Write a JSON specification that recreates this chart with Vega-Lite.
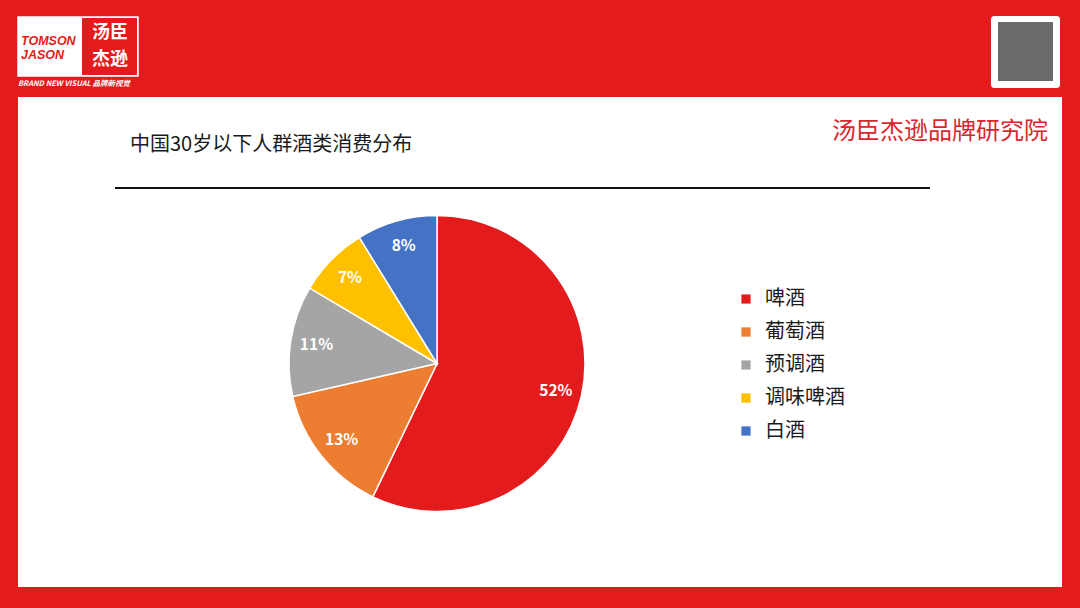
{
  "$schema": "https://vega.github.io/schema/vega-lite/v6.json",
  "width": 1044,
  "height": 490,
  "autosize": {"type": "none"},
  "padding": {"left": 18, "top": 97, "right": 18, "bottom": 21},
  "background": "#E31B1C",
  "config": {
    "view": {"fill": "#FFFFFF", "stroke": null},
    "font": "Noto Sans CJK SC"
  },
  "data": {
    "values": [
      {"idx": 1, "name": "啤酒", "value": 52, "label": "52%"},
      {"idx": 2, "name": "葡萄酒", "value": 13, "label": "13%"},
      {"idx": 3, "name": "预调酒", "value": 11, "label": "11%"},
      {"idx": 4, "name": "调味啤酒", "value": 7, "label": "7%"},
      {"idx": 5, "name": "白酒", "value": 8, "label": "8%"}
    ]
  },
  "layer": [
    {
      "mark": {"type": "arc", "radius": 148, "x": 419, "y": 266.5, "stroke": "#FFFFFF", "strokeWidth": 1.5},
      "encoding": {
        "theta": {"field": "value", "type": "quantitative", "stack": true},
        "order": {"field": "idx", "type": "quantitative"},
        "color": {
          "field": "name",
          "type": "nominal",
          "sort": ["啤酒", "葡萄酒", "预调酒", "调味啤酒", "白酒"],
          "scale": {
            "domain": ["啤酒", "葡萄酒", "预调酒", "调味啤酒", "白酒"],
            "range": ["#E31B1C", "#ED7D31", "#A5A5A5", "#FFC000", "#4472C4"]
          },
          "legend": {
            "title": null,
            "orient": "none",
            "legendX": 718,
            "legendY": 192,
            "symbolType": "square",
            "symbolSize": 85,
            "symbolStrokeWidth": 0,
            "labelFontSize": 20,
            "labelFont": "Noto Sans CJK SC",
            "labelColor": "#1A1A1A",
            "labelOffset": 9,
            "rowPadding": 13,
            "labelLimit": 300
          }
        }
      }
    },
    {
      "mark": {"type": "text", "radius": 122, "x": 419, "y": 266.5, "color": "#FFFFFF", "fontSize": 15.5, "fontWeight": "bold", "font": "Noto Sans CJK SC"},
      "encoding": {
        "theta": {"field": "value", "type": "quantitative", "stack": true},
        "order": {"field": "idx", "type": "quantitative"},
        "text": {"field": "label", "type": "nominal"}
      }
    },
    {
      "data": {"values": [{"t": "中国30岁以下人群酒类消费分布"}]},
      "mark": {"type": "text", "align": "left", "baseline": "middle", "fontSize": 20, "fontWeight": 400, "color": "#1A1A1A", "font": "Noto Sans CJK SC"},
      "encoding": {"x": {"value": 112}, "y": {"value": 48}, "text": {"field": "t", "type": "nominal"}}
    },
    {
      "data": {"values": [{"t": "汤臣杰逊品牌研究院"}]},
      "mark": {"type": "text", "align": "right", "baseline": "middle", "fontSize": 24, "color": "#D9262C", "font": "Noto Sans CJK SC"},
      "encoding": {"x": {"value": 1030}, "y": {"value": 35}, "text": {"field": "t", "type": "nominal"}}
    },
    {
      "data": {"values": [{}]},
      "mark": {"type": "rule", "color": "#111111", "strokeWidth": 2},
      "encoding": {"x": {"value": 97}, "x2": {"value": 912}, "y": {"value": 91}}
    },
    {
      "data": {"values": [{}]},
      "mark": {"type": "rect", "fill": "#FFFFFF", "stroke": "#FFFFFF", "strokeWidth": 1.5},
      "encoding": {"x": {"value": 0}, "x2": {"value": 120}, "y": {"value": -80}, "y2": {"value": -21}}
    },
    {
      "data": {"values": [{}]},
      "mark": {"type": "rect", "fill": "#E31B1C"},
      "encoding": {"x": {"value": 64}, "x2": {"value": 119}, "y": {"value": -79}, "y2": {"value": -22}}
    },
    {
      "data": {"values": [{"t": "TOMSON", "yy": -56}, {"t": "JASON", "yy": -42}]},
      "mark": {"type": "text", "align": "left", "baseline": "middle", "fontSize": 12.5, "fontWeight": "bold", "fontStyle": "italic", "color": "#E31B1C", "font": "Liberation Sans"},
      "encoding": {"x": {"value": 3}, "y": {"field": "yy", "type": "quantitative", "scale": null}, "text": {"field": "t", "type": "nominal"}}
    },
    {
      "data": {"values": [{"t": "汤臣", "yy": -64}, {"t": "杰逊", "yy": -37}]},
      "mark": {"type": "text", "align": "center", "baseline": "middle", "fontSize": 18, "fontWeight": "bold", "color": "#FFFFFF", "font": "Noto Sans CJK SC"},
      "encoding": {"x": {"value": 92}, "y": {"field": "yy", "type": "quantitative", "scale": null}, "text": {"field": "t", "type": "nominal"}}
    },
    {
      "data": {"values": [{"t": "BRAND NEW VISUAL 品牌新视觉"}]},
      "mark": {"type": "text", "align": "left", "baseline": "middle", "fontSize": 7.5, "fontWeight": "bold", "fontStyle": "italic", "color": "#FFFFFF", "font": "Noto Sans CJK SC"},
      "encoding": {"x": {"value": 0}, "y": {"value": -13}, "text": {"field": "t", "type": "nominal"}}
    },
    {
      "data": {"values": [{}]},
      "mark": {"type": "rect", "fill": "#FFFFFF", "cornerRadius": 3},
      "encoding": {"x": {"value": 973}, "x2": {"value": 1042}, "y": {"value": -81}, "y2": {"value": -9}}
    },
    {
      "data": {"values": [{}]},
      "mark": {"type": "rect", "fill": "#6A6A6A"},
      "encoding": {"x": {"value": 980}, "x2": {"value": 1035}, "y": {"value": -75}, "y2": {"value": -16}}
    }
  ]
}
